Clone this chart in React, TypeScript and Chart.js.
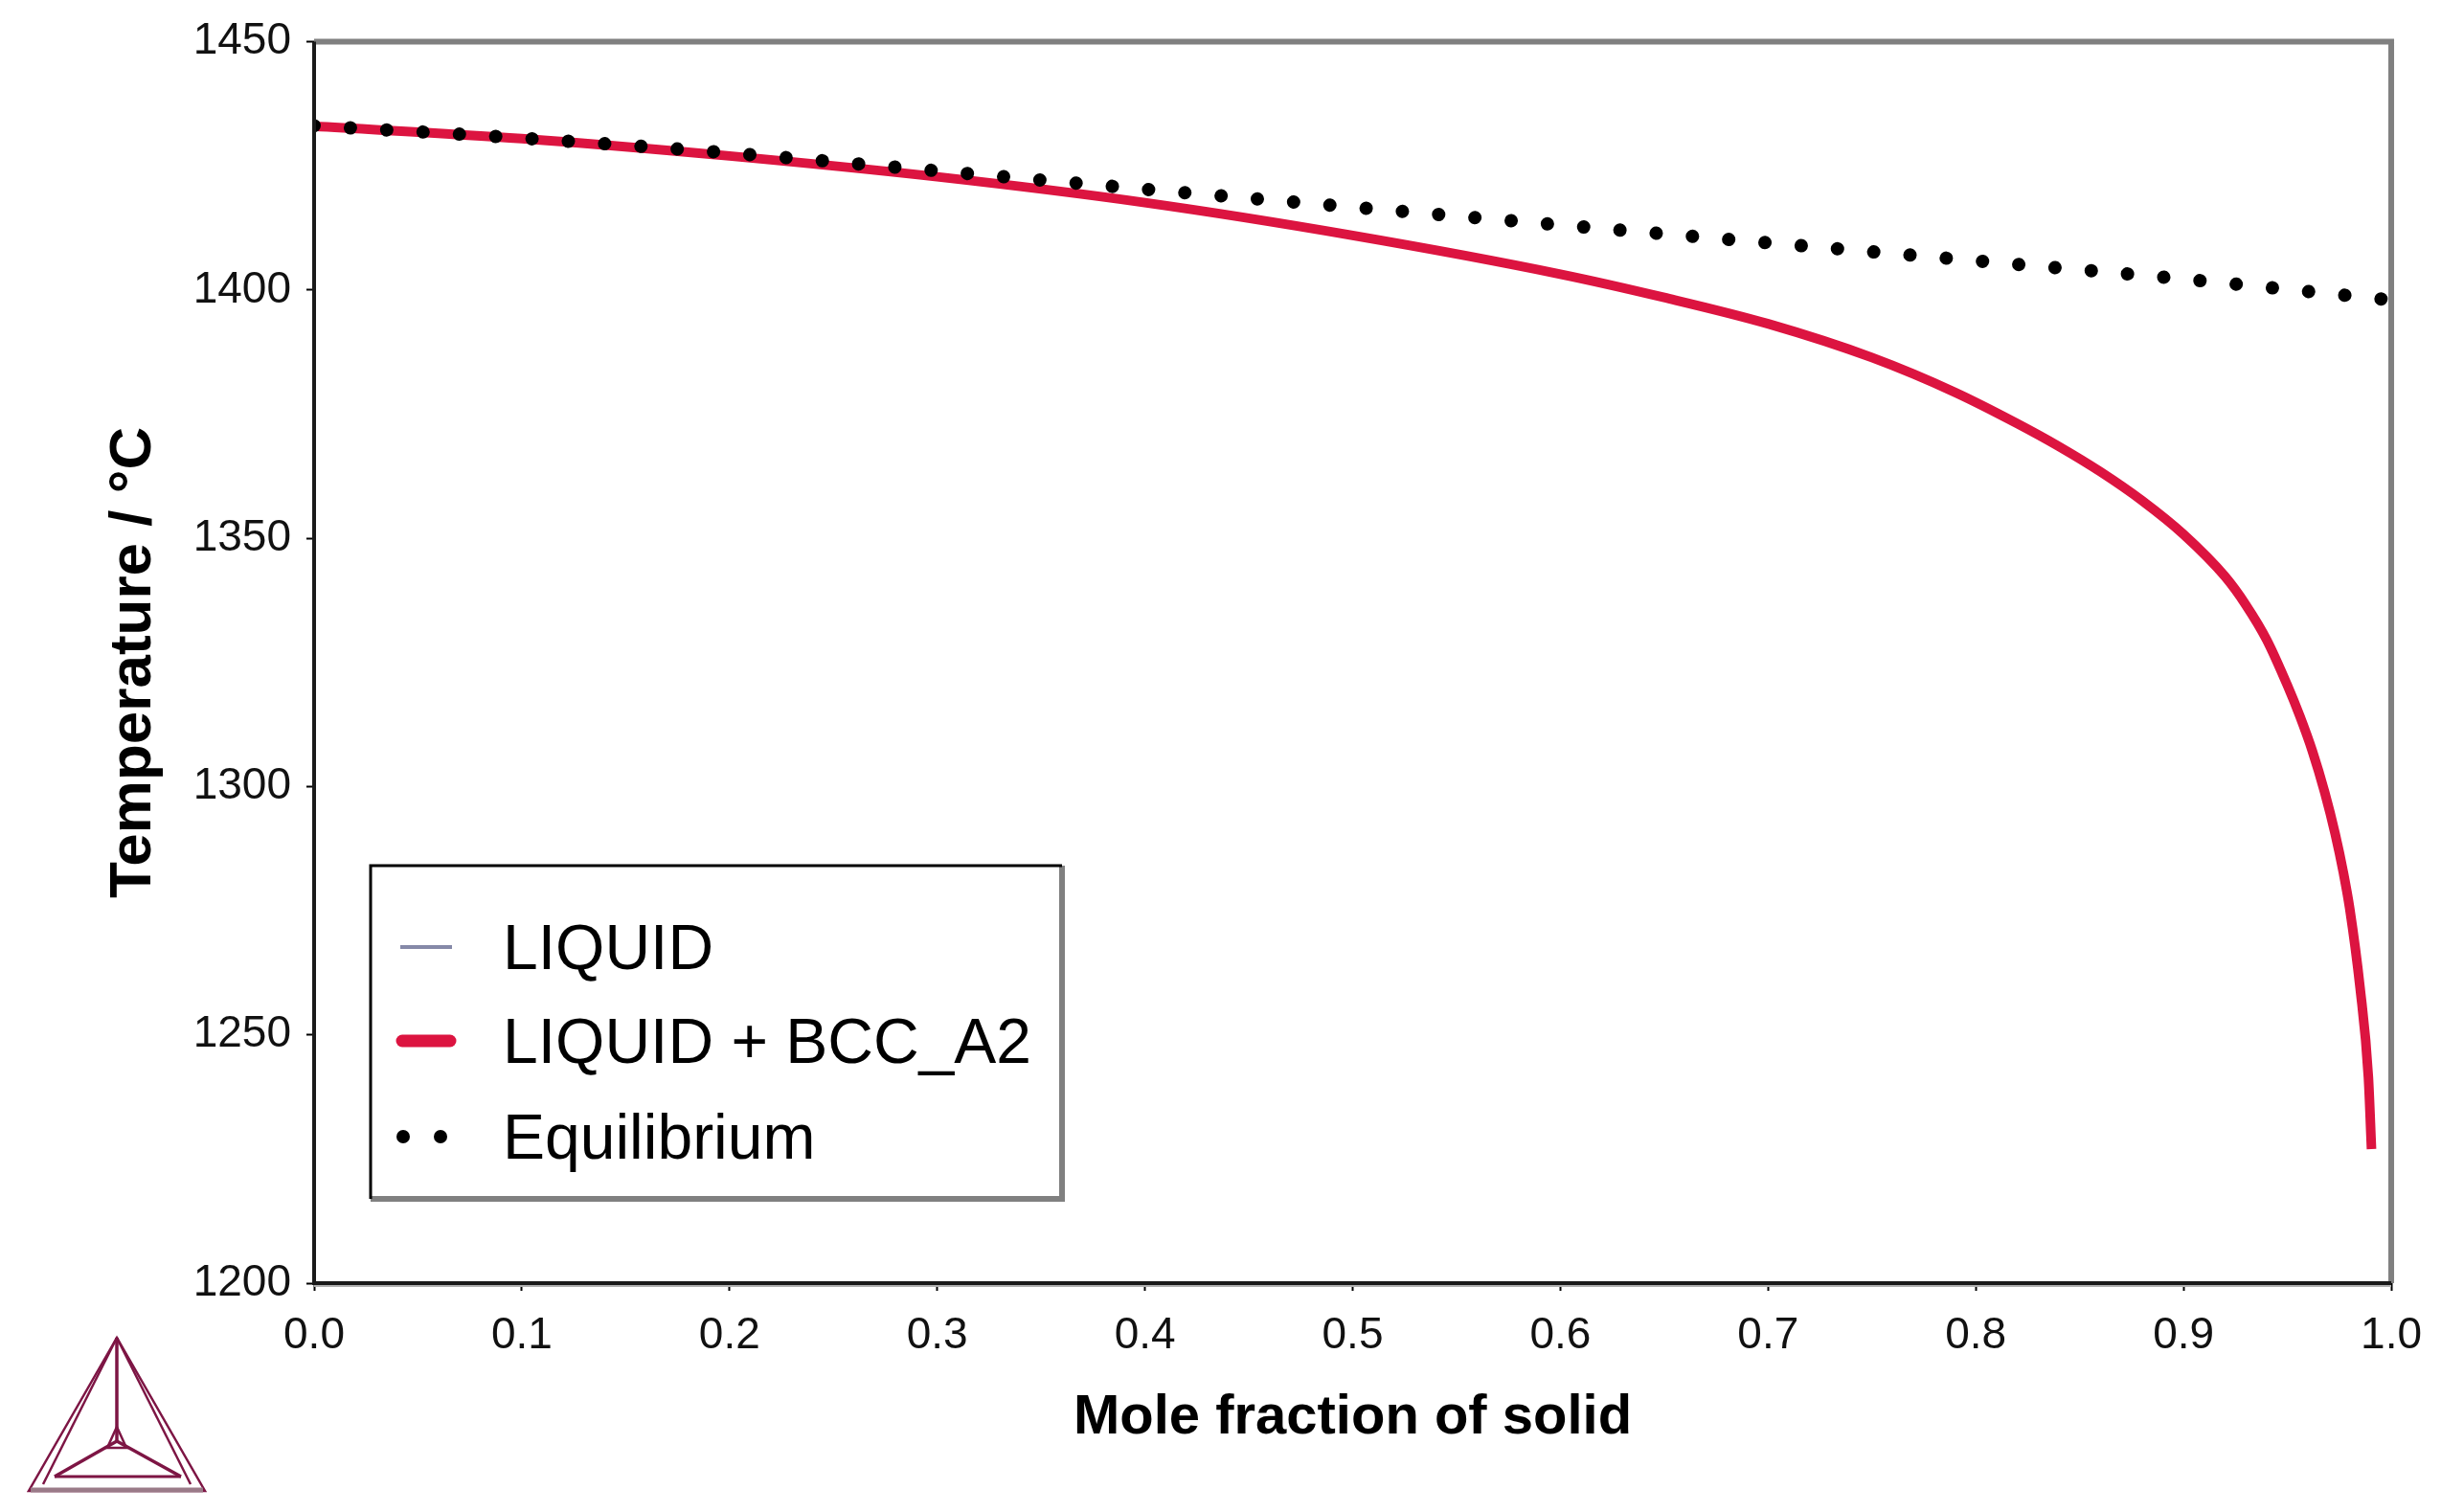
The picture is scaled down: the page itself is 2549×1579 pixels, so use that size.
import React, { useEffect, useRef } from 'react';
import { Chart, registerables } from 'chart.js';

Chart.register(...registerables);

const W = 2549;
const H = 1579;
const FONT = '"Liberation Sans", Arial, sans-serif';

// ---- data ----
const scheilX = [0, 0.1, 0.2, 0.3, 0.4, 0.5, 0.6, 0.65, 0.7, 0.75, 0.79, 0.82, 0.84, 0.86, 0.88, 0.9, 0.92, 0.93, 0.94, 0.95, 0.956, 0.962, 0.968, 0.973, 0.977, 0.98, 0.985, 0.989, 0.9905];
const scheilT = [1433.0, 1430.5, 1427.0, 1422.8, 1417.6, 1411.0, 1403.2, 1398.5, 1393.2, 1386.4, 1379.4, 1373.1, 1368.5, 1363.4, 1357.6, 1350.8, 1342.3, 1336.6, 1329.6, 1320.4, 1314.2, 1307.2, 1298.8, 1290.5, 1282.6, 1275.5, 1259.5, 1241.5, 1227.0];

const eqX = [0, 0.1, 0.2, 0.3, 0.4, 0.5, 0.6, 0.7, 0.8, 0.9, 1.0];
const eqT = [1433.1, 1430.6, 1427.6, 1424.0, 1420.3, 1416.7, 1413.1, 1409.5, 1405.9, 1402.2, 1398.0];

const liquidX: number[] = [];
const liquidT: number[] = [];

const seriesLabels = ['LIQUID', 'LIQUID + BCC_A2', 'Equilibrium'];
const xTitle = 'Mole fraction of solid';
const yTitle = 'Temperature / °C';
const xMin = 0, xMax = 1, xStep = 0.1;
const yMin = 1200, yMax = 1450, yStep = 50;

const toPts = (xs: number[], ys: number[]) => xs.map((x, i) => ({ x, y: ys[i] }));

const RED = '#DC1440';
const LIQ = '#8589A8';

const framePlugin = {
  id: 'frame',
  afterDatasetsDraw(chart: any) {
    const { ctx } = chart;
    const { left, top, right, bottom } = chart.chartArea;
    ctx.save();
    ctx.lineCap = 'butt';
    ctx.strokeStyle = '#808080';
    ctx.lineWidth = 6;
    ctx.beginPath();
    ctx.moveTo(left, top);
    ctx.lineTo(right, top);
    ctx.lineTo(right, bottom);
    ctx.stroke();
    ctx.strokeStyle = '#b0b0b0';
    ctx.lineWidth = 2;
    ctx.beginPath();
    ctx.moveTo(left, bottom + 3);
    ctx.lineTo(right, bottom + 3);
    ctx.stroke();
    ctx.strokeStyle = '#1a1a1a';
    ctx.lineWidth = 4;
    ctx.beginPath();
    ctx.moveTo(right, bottom);
    ctx.lineTo(left, bottom);
    ctx.lineTo(left, top);
    ctx.stroke();
    ctx.restore();
  },
};

const legendPlugin = {
  id: 'boxLegend',
  afterDraw(chart: any) {
    const { ctx } = chart;
    const L = 387, T = 904, R = 1109, B = 1252;
    const rows = [989, 1087, 1187];
    ctx.save();
    ctx.fillStyle = '#ffffff';
    ctx.fillRect(L, T, R - L, B - T);
    ctx.strokeStyle = '#808080';
    ctx.lineWidth = 6;
    ctx.beginPath();
    ctx.moveTo(L, B);
    ctx.lineTo(R, B);
    ctx.lineTo(R, T);
    ctx.stroke();
    ctx.strokeStyle = '#000';
    ctx.lineWidth = 3;
    ctx.beginPath();
    ctx.moveTo(L, B);
    ctx.lineTo(L, T);
    ctx.lineTo(R, T);
    ctx.stroke();

    chart.data.datasets.forEach((ds: any, i: number) => {
      const cy = rows[i];
      ctx.strokeStyle = ds.borderColor;
      ctx.fillStyle = ds.borderColor;
      if (ds.borderDash && ds.borderDash.length) {
        [421, 460].forEach((cx) => {
          ctx.beginPath();
          ctx.arc(cx, cy, 7, 0, Math.PI * 2);
          ctx.fill();
        });
      } else {
        const thick = ds.borderWidth >= 8;
        ctx.lineWidth = thick ? 13 : 4;
        ctx.lineCap = thick ? 'round' : 'butt';
        ctx.beginPath();
        ctx.moveTo(thick ? 420 : 418, cy);
        ctx.lineTo(thick ? 470 : 472, cy);
        ctx.stroke();
      }
      ctx.fillStyle = '#000';
      ctx.font = `66px ${FONT}`;
      ctx.textBaseline = 'alphabetic';
      ctx.textAlign = 'left';
      ctx.fillText(ds.label, 525, cy + 23);
    });
    ctx.restore();
  },
};

const logoPlugin = {
  id: 'logo',
  afterDraw(chart: any) {
    const { ctx } = chart;
    ctx.save();
    ctx.strokeStyle = '#7d1544';
    ctx.lineWidth = 2.5;
    ctx.lineJoin = 'miter';
    const A = [122, 1397], Bp = [30, 1557], Cp = [214, 1557];
    const O = [122, 1505];
    const B2 = [57, 1542], C2 = [189, 1542];
    const line = (p: number[], q: number[]) => { ctx.beginPath(); ctx.moveTo(p[0], p[1]); ctx.lineTo(q[0], q[1]); ctx.stroke(); };
    ctx.beginPath();
    ctx.moveTo(A[0], A[1]); ctx.lineTo(Bp[0], Bp[1]); ctx.lineTo(Cp[0], Cp[1]); ctx.closePath(); ctx.stroke();
    line(A, [45, 1550]);
    line(A, [199, 1550]);
    ctx.lineWidth = 3;
    line(B2, C2);
    ctx.lineWidth = 3.5;
    line(A, O);
    line(O, B2);
    line(O, C2);
    ctx.lineWidth = 2.5;
    ctx.beginPath();
    ctx.moveTo(122, 1490); ctx.lineTo(112, 1512); ctx.lineTo(132, 1512); ctx.closePath(); ctx.stroke();
    ctx.strokeStyle = '#9a7a88';
    ctx.lineWidth = 5;
    line([32, 1556], [212, 1556]);
    ctx.restore();
  },
};

export default function App() {
  const ref = useRef<HTMLCanvasElement | null>(null);

  useEffect(() => {
    document.body.style.margin = '0';
    document.body.style.overflow = 'hidden';
    const canvas = ref.current;
    if (!canvas) return;
    const tickFont = { family: FONT, size: 46 };
    const chart = new Chart(canvas, {
      type: 'line',
      data: {
        datasets: [
          {
            label: seriesLabels[0],
            data: toPts(liquidX, liquidT),
            borderColor: LIQ,
            borderWidth: 3,
            pointRadius: 0,
            order: 2,
          },
          {
            label: seriesLabels[1],
            data: toPts(scheilX, scheilT),
            borderColor: RED,
            borderWidth: 10,
            pointRadius: 0,
            cubicInterpolationMode: 'monotone',
            borderCapStyle: 'butt',
            order: 1,
          },
          {
            label: seriesLabels[2],
            data: toPts(eqX, eqT),
            borderColor: '#000000',
            borderWidth: 14,
            borderDash: [0.001, 38],
            borderCapStyle: 'round',
            pointRadius: 0,
            cubicInterpolationMode: 'monotone',
            order: 0,
          },
        ] as any,
      },
      options: {
        responsive: false,
        maintainAspectRatio: false,
        animation: false,
        devicePixelRatio: 1,
        layout: { padding: { top: 39, right: 50, left: 0, bottom: 0 } },
        plugins: { legend: { display: false }, tooltip: { enabled: false } },
        elements: { point: { radius: 0 } },
        scales: {
          x: {
            type: 'linear',
            min: xMin,
            max: xMax,
            ticks: {
              stepSize: xStep,
              autoSkip: false,
              maxRotation: 0,
              font: tickFont,
              color: '#111',
              padding: 20,
              callback: (v: any) => Number(v).toFixed(1),
            },
            grid: { display: true, drawOnChartArea: false, drawTicks: true, tickLength: 8, tickColor: '#000', tickWidth: 2 },
            border: { display: false },
            title: { display: true, text: xTitle, font: { family: FONT, size: 58, weight: 'bold' }, color: '#000', padding: { top: 0, bottom: 63 } },
            afterFit: (s: any) => { s.height = 239; },
          },
          y: {
            type: 'linear',
            min: yMin,
            max: yMax,
            ticks: {
              stepSize: yStep,
              font: tickFont,
              color: '#111',
              padding: 16,
              callback: (v: any) => String(v),
            },
            grid: { display: true, drawOnChartArea: false, drawTicks: true, tickLength: 8, tickColor: '#000', tickWidth: 2 },
            border: { display: false },
            title: { display: true, text: yTitle, font: { family: FONT, size: 62, weight: 'bold' }, color: '#000', padding: { top: 103, bottom: 0 } },
            afterFit: (s: any) => { s.width = 328; },
          },
        },
      } as any,
      plugins: [framePlugin, legendPlugin, logoPlugin],
    });
    return () => chart.destroy();
  }, []);

  return (
    <div style={{ position: 'absolute', left: 0, top: 0, width: W, height: H, background: '#fff' }}>
      <canvas ref={ref} width={W} height={H} style={{ display: 'block' }} />
    </div>
  );
}
